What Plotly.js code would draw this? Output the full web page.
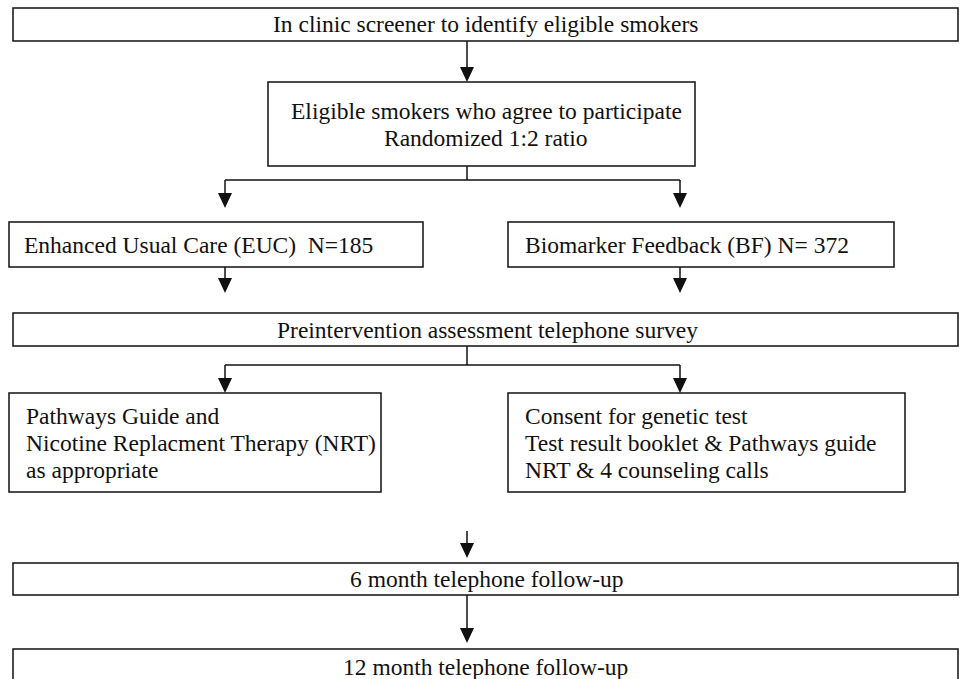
<!DOCTYPE html>
<html>
<head>
<meta charset="utf-8">
<script src="https://cdn.plot.ly/plotly-3.0.1.min.js"></script>
<style>html,body{margin:0;padding:0;background:#fff;overflow:hidden}</style>
</head>
<body>
<div id="chart" style="width:963px;height:679px"></div>
<script>
// ---- Content (text of each box, top to bottom) ----
const screenerText = ["In clinic screener to identify eligible smokers"];
const randomText = ["Eligible smokers who agree to participate", "Randomized 1:2 ratio"];
const eucText = ["Enhanced Usual Care (EUC)\u00a0 N=185"];
const bfText = ["Biomarker Feedback (BF) N= 372"];
const surveyText = ["Preintervention assessment telephone survey"];
const eucInterventionText = ["Pathways Guide and", "Nicotine Replacment Therapy (NRT)", "as appropriate"];
const bfInterventionText = ["Consent for genetic test", "Test result booklet & Pathways guide", "NRT & 4 counseling calls"];
const followup6Text = ["6 month telephone follow-up"];
const followup12Text = ["12 month telephone follow-up"];

// ---- Layout geometry (pixel space) ----
const W = 963, H = 679;
const FONT = {family: "Liberation Serif, Times New Roman, serif", size: 23.5, color: "#111"};
const LINE_GAP = 27;
const boxes = [
  {lines: screenerText,        x0: 13,  x1: 958, y0: 8,   y1: 41,  align: "center", tx: 485, ty: 24},
  {lines: randomText,          x0: 268, x1: 695, y0: 82,  y1: 166, align: "center", tx: 486},
  {lines: eucText,             x0: 9,   x1: 423, y0: 222, y1: 267, align: "left",   tx: 22},
  {lines: bfText,              x0: 508, x1: 894, y0: 222, y1: 267, align: "left",   tx: 523},
  {lines: surveyText,          x0: 13,  x1: 958, y0: 313, y1: 346, align: "center", tx: 487},
  {lines: eucInterventionText, x0: 9,   x1: 381, y0: 393, y1: 492, align: "left",   tx: 24},
  {lines: bfInterventionText,  x0: 508, x1: 905, y0: 393, y1: 492, align: "left",   tx: 523},
  {lines: followup6Text,       x0: 13,  x1: 958, y0: 563, y1: 595, align: "center", tx: 486},
  {lines: followup12Text,      x0: 13,  x1: 958, y0: 649, y1: 686, align: "center", tx: 485, ty: 667}
];
// arrows: vertical, from y0 to tip y1 at x
const arrows = [
  {x: 467, y0: 41,  y1: 82},
  {x: 225, y0: 180, y1: 208},
  {x: 680, y0: 180, y1: 208},
  {x: 225, y0: 267, y1: 293},
  {x: 680, y0: 267, y1: 293},
  {x: 225, y0: 365, y1: 393},
  {x: 680, y0: 365, y1: 393},
  {x: 467, y0: 531, y1: 558},
  {x: 467, y0: 595, y1: 643}
];
// plain connector segments
const segments = [
  {x0: 467, y0: 166, x1: 467, y1: 180},
  {x0: 225, y0: 180, x1: 680, y1: 180},
  {x0: 467, y0: 346, x1: 467, y1: 365},
  {x0: 225, y0: 365, x1: 680, y1: 365}
];
const HEAD_W = 14, HEAD_L = 15;
const LINE = {color: "#111", width: 1.5};

const shapes = [];
const annotations = [];
boxes.forEach(b => {
  shapes.push({type: "rect", xref: "x", yref: "y", x0: b.x0, x1: b.x1, y0: b.y0, y1: b.y1,
    line: LINE, fillcolor: "rgba(0,0,0,0)"});
  const cy = (b.y0 + b.y1) / 2;
  const n = b.lines.length;
  b.lines.forEach((t, i) => {
    const y = (b.ty !== undefined) ? b.ty : cy + (i - (n - 1) / 2) * LINE_GAP;
    annotations.push({xref: "x", yref: "y", x: b.tx, y: y, text: t.replace(/&/g, "&amp;"),
      showarrow: false, xanchor: b.align === "left" ? "left" : "center", yanchor: "middle",
      font: FONT});
  });
});
segments.forEach(s => shapes.push({type: "line", xref: "x", yref: "y", x0: s.x0, y0: s.y0, x1: s.x1, y1: s.y1, line: LINE}));
arrows.forEach(a => {
  shapes.push({type: "line", xref: "x", yref: "y", x0: a.x, x1: a.x, y0: a.y0, y1: a.y1 - HEAD_L + 1, line: LINE});
  shapes.push({type: "path", xref: "x", yref: "y",
    path: `M ${a.x - HEAD_W / 2},${a.y1 - HEAD_L} L ${a.x + HEAD_W / 2},${a.y1 - HEAD_L} L ${a.x},${a.y1} Z`,
    fillcolor: "#111", line: {width: 0}});
});

const layout = {
  width: W, height: H,
  margin: {l: 0, r: 0, t: 0, b: 0},
  paper_bgcolor: "#fff", plot_bgcolor: "#fff",
  showlegend: false,
  xaxis: {range: [0, W], visible: false, fixedrange: true},
  yaxis: {range: [H, 0], visible: false, fixedrange: true},
  shapes: shapes,
  annotations: annotations
};
Plotly.newPlot("chart", [{x: [], y: [], type: "scatter", hoverinfo: "skip"}], layout, {staticPlot: true, displayModeBar: false});
</script>
</body>
</html>
